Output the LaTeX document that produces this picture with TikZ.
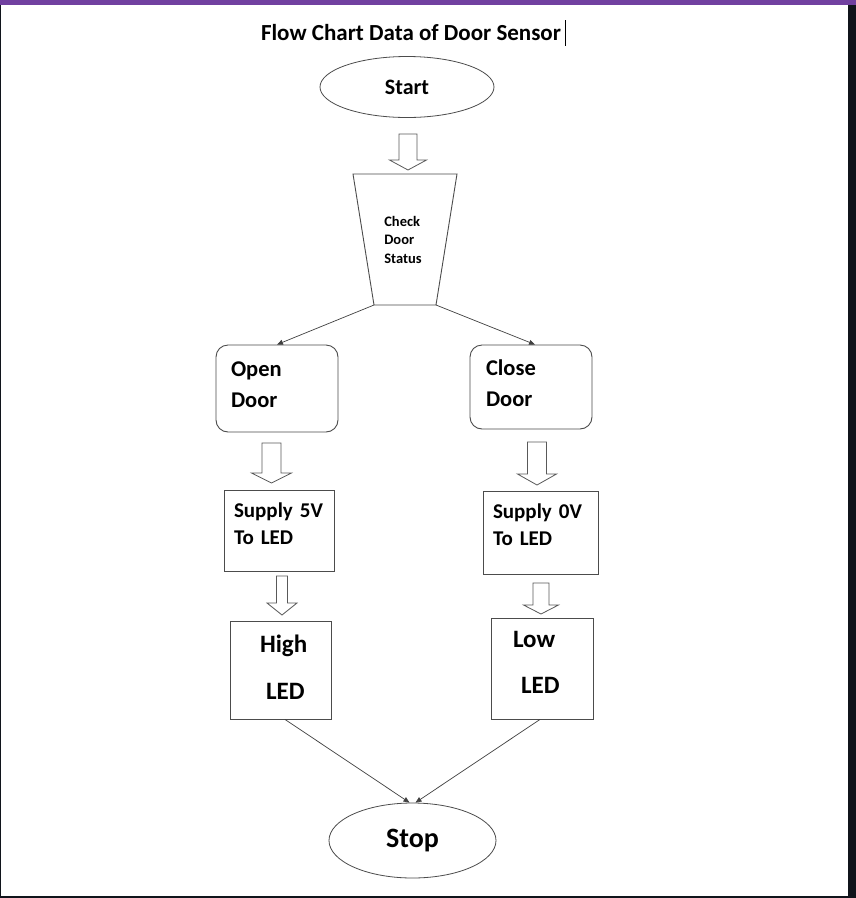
\documentclass[tikz,border=0pt]{standalone}
\usepackage{fontspec}
\setmainfont{Carlito}
\usetikzlibrary{shapes.geometric,arrows.meta}
\definecolor{framebg}{HTML}{10141B}
\definecolor{topbar}{HTML}{7140A0}
\tikzset{
	term/.style={draw=black!70, ellipse, line width=0.8pt, inner sep=0pt, font=\bfseries},
	procbox/.style={draw=black!70, line width=0.9pt, inner sep=0pt, align=left, font=\bfseries},
	blockarr/.style={draw=black!65, fill=white, line width=0.8pt, line join=miter},
	link/.style={draw=black!75, line width=0.7pt, -{Triangle[length=6pt,width=5pt]}},
}
\begin{document}
\begin{tikzpicture}[x=1pt,y=-1pt]
		% frame of the screenshot
		\fill[framebg] (0,0) rectangle (856,898);
		\fill[topbar] (0,0) rectangle (856,5);
		\fill[white] (1,5) rectangle (848,896);
		\useasboundingbox (0,0) rectangle (856,898);
		% title
		\node[font=\fontsize{23}{28}\selectfont\bfseries] (title) at (411,33) {Flow Chart Data of Door Sensor};
		\draw[black, line width=0.8pt] (565,20)--(565,46);
		% terminals and boxes
		\node[term, minimum width=174, minimum height=61, font=\fontsize{22}{26}\selectfont\bfseries] (start) at (407,87) {Start};
		\coordinate (cl) at (374,305);
		\coordinate (cr) at (436,305);
		\draw[black!70, line width=0.9pt] (353,174) -- (457,174) -- (cr) -- (cl) -- cycle;
		\node[align=left, inner sep=0pt, font=\fontsize{14.5}{18.5}\selectfont\bfseries] (check) at (403,239.5) {Check\\Door\\Status};
		\node[procbox, rounded corners=12pt, minimum width=122, minimum height=87, text width=92, inner xsep=15, text depth=38pt,
			font=\fontsize{22.5}{31}\selectfont\bfseries] (open) at (277,388.5) {Open\\Door};
		\node[procbox, rounded corners=12pt, minimum width=122, minimum height=84, text width=90, inner xsep=16, text depth=38pt,
			font=\fontsize{22.5}{31}\selectfont\bfseries] (close) at (531,387) {Close\\Door};
		\node[procbox, minimum width=110, minimum height=81, text width=90, inner xsep=10, text depth=40pt,
			font=\fontsize{21}{27}\selectfont\bfseries] (sup5) at (279,530.5) {Supply 5V\\To LED};
		\node[procbox, minimum width=115, minimum height=83, text width=95, inner xsep=10, text depth=43pt,
			font=\fontsize{21}{27}\selectfont\bfseries] (sup0) at (540.5,533) {Supply 0V\\To LED};
		\node[procbox, minimum width=101, minimum height=98, text width=101, text depth=53.5pt,
			font=\fontsize{25}{30}\selectfont\bfseries] (high) at (280.5,670) {\hspace*{30pt}High\\[17pt]\hspace*{36pt}LED};
		\node[procbox, minimum width=102, minimum height=101, text width=102, text depth=57.5pt,
			font=\fontsize{25}{30}\selectfont\bfseries] (low) at (542,668.5) {\hspace*{22pt}Low\\[16pt]\hspace*{30pt}LED};
		\node[term, minimum width=167, minimum height=75, font=\fontsize{28}{32}\selectfont\bfseries] (stop) at (412.5,840.5) {Stop};
		% hollow arrows: x / top / tip / half shaft / half head / head length
		\foreach \x/\t/\e/\s/\h/\l in {408/134/170/9/18.5/10, 271.5/443/483/9.5/20/10, 537/442/485/9.5/19.5/11,
			282/576/615/5.5/15/12, 541/583/614/8/17.5/9}
			\draw[blockarr] (\x-\s,\t) -- (\x+\s,\t) -- (\x+\s,\e-\l) -- (\x+\h,\e-\l) -- (\x,\e)
				-- (\x-\h,\e-\l) -- (\x-\s,\e-\l) -- cycle;
		% thin arrows
		\draw[link] (cl) -- (open.north);
		\draw[link] (cr) -- ([xshift=4pt]close.north);
		\draw[link] ([xshift=4.5pt]high.south) -- ([xshift=-3pt]stop.north);
		\draw[link] ([xshift=-2pt]low.south) -- ([xshift=3pt]stop.north);
	\end{tikzpicture}
\end{document}
